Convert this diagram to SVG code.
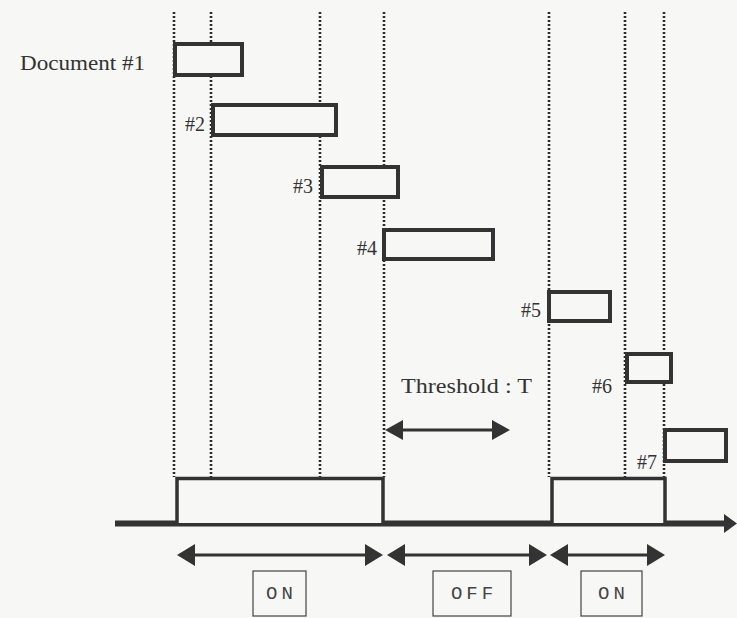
<svg xmlns="http://www.w3.org/2000/svg" width="737" height="618" viewBox="0 0 737 618">
<style>
.bg{fill:#f7f7f5}
.guide{stroke:#2e2a2a;stroke-width:2.6;stroke-dasharray:2 2;fill:none}
.doc{fill:#f7f7f5;stroke:#333;stroke-width:4}
.sig{fill:#f7f7f5;stroke:#333;stroke-width:3.5}
.lbl{font-family:"Liberation Serif","DejaVu Serif",serif;font-size:20px;fill:#333}
.mono{font-family:"Liberation Mono","DejaVu Sans Mono",monospace;font-size:19px;fill:#444;text-anchor:middle;letter-spacing:4px}
.tag{fill:none;stroke:#444;stroke-width:1.2}
.arr{stroke:#333;stroke-width:3;fill:none}
.head{fill:#333}
</style>
<rect class="bg" x="0" y="0" width="737" height="618"/>
<g id="guides">
<line class="guide" x1="174" y1="12" x2="174" y2="477"/>
<line class="guide" x1="211" y1="12" x2="211" y2="477"/>
<line class="guide" x1="320" y1="12" x2="320" y2="477"/>
<line class="guide" x1="384" y1="12" x2="384" y2="477"/>
<line class="guide" x1="549" y1="12" x2="549" y2="477"/>
<line class="guide" x1="625" y1="12" x2="625" y2="477"/>
<line class="guide" x1="664" y1="12" x2="664" y2="477"/>
</g>
<g id="doc1"><rect class="doc" x="175" y="44" width="67" height="31"/><text class="lbl" x="20" y="70" textLength="125" lengthAdjust="spacingAndGlyphs">Document #1</text></g>
<g id="doc2"><rect class="doc" x="213" y="105" width="123" height="30"/><text class="lbl" x="205" y="131" text-anchor="end">#2</text></g>
<g id="doc3"><rect class="doc" x="322" y="167" width="76" height="30"/><text class="lbl" x="313" y="193" text-anchor="end">#3</text></g>
<g id="doc4"><rect class="doc" x="384" y="230" width="109" height="29"/><text class="lbl" x="377" y="255" text-anchor="end">#4</text></g>
<g id="doc5"><rect class="doc" x="549" y="292" width="61" height="29"/><text class="lbl" x="541" y="317" text-anchor="end">#5</text></g>
<g id="doc6"><rect class="doc" x="627" y="354" width="44" height="28"/><text class="lbl" x="612" y="393" text-anchor="end">#6</text></g>
<g id="doc7"><rect class="doc" x="665" y="430" width="61" height="31"/><text class="lbl" x="657" y="469" text-anchor="end">#7</text></g>
<g id="signal">
<line x1="115" y1="523.5" x2="728" y2="523.5" stroke="#333" stroke-width="6"/>
<polygon class="head" points="724,514 737,523.5 724,533"/>
<polyline class="sig" points="177,523 177,478.5 383,478.5 383,523"/>
<polyline class="sig" points="552,523 552,478.5 665,478.5 665,523"/>
</g>
<g id="threshold">
<text class="lbl" x="401" y="393" textLength="131" lengthAdjust="spacingAndGlyphs">Threshold : T</text>
</g>
<g id="connectors">
<line class="arr" x1="398" y1="430" x2="497" y2="430"/>
<polygon class="head" points="385,430 403,420 403,440"/>
<polygon class="head" points="510,430 492,420 492,440"/>
<line class="arr" x1="190" y1="555" x2="370" y2="555"/>
<polygon class="head" points="177,555 195,544 195,566"/>
<polygon class="head" points="383,555 365,544 365,566"/>
<line class="arr" x1="400" y1="555" x2="534" y2="555"/>
<polygon class="head" points="387,555 405,544 405,566"/>
<polygon class="head" points="547,555 529,544 529,566"/>
<line class="arr" x1="563" y1="555" x2="652" y2="555"/>
<polygon class="head" points="550,555 568,544 568,566"/>
<polygon class="head" points="665,555 647,544 647,566"/>
</g>
<g id="on1"><rect class="tag" x="253" y="571" width="53" height="45"/><text class="mono" x="281.5" y="599">ON</text></g>
<g id="off"><rect class="tag" x="433" y="571" width="78" height="45"/><text class="mono" x="474" y="599">OFF</text></g>
<g id="on2"><rect class="tag" x="581" y="571" width="61" height="45"/><text class="mono" x="613.5" y="599">ON</text></g>
</svg>
